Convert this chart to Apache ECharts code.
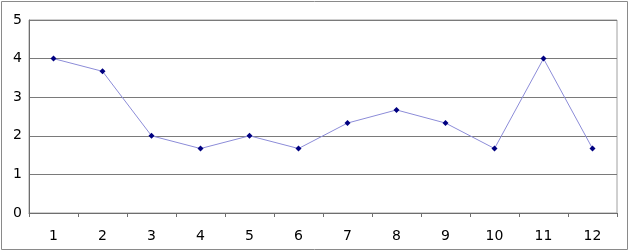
<!DOCTYPE html>
<html><head><meta charset="utf-8">
<script src="https://cdn.jsdelivr.net/npm/echarts@6/dist/echarts.min.js"></script>
<style>html,body{margin:0;padding:0;background:#fff}#c{width:630px;height:252px}</style>
</head><body><div id="c"></div>
<script>
const categories = ['1','2','3','4','5','6','7','8','9','10','11','12'];
const values = [4, 3.67, 2, 1.67, 2, 1.67, 2.33, 2.67, 2.33, 1.67, 4, 1.67];
const yTicks = [0, 1, 2, 3, 4, 5];

const chart = echarts.init(document.getElementById('c'), null, {renderer: 'canvas'});
chart.setOption({
  animation: false,
  graphic: [{type: 'rect', shape: {x: 1.5, y: 1.5, width: 626, height: 248}, style: {fill: 'none', stroke: '#8a8a8a', lineWidth: 1}, silent: true}],
  grid: {left: 29, right: 13, top: 20, bottom: 39, show: true, borderColor: '#a0a0a0', borderWidth: 1},
  xAxis: {
    type: 'category', data: categories, boundaryGap: true,
    axisLine: {lineStyle: {color: '#6e6e6e'}},
    axisTick: {show: true, length: 4, inside: false, lineStyle: {color: '#6e6e6e'}},
    axisLabel: {color: '#000', fontFamily: 'DejaVu Sans', fontSize: 14, margin: 16}
  },
  yAxis: {
    type: 'value', min: yTicks[0], max: yTicks[yTicks.length-1], interval: 1,
    axisLine: {show: true, lineStyle: {color: '#6e6e6e'}},
    axisTick: {show: false},
    splitLine: {lineStyle: {color: '#7a7a7a', width: 1}},
    axisLabel: {color: '#000', fontFamily: 'DejaVu Sans', fontSize: 14, margin: 7}
  },
  series: [{
    type: 'line', data: values,
    symbol: 'diamond', symbolSize: 6,
    itemStyle: {color: '#000080'},
    lineStyle: {color: '#8c8cd8', width: 1}
  }]
});
</script></body></html>
